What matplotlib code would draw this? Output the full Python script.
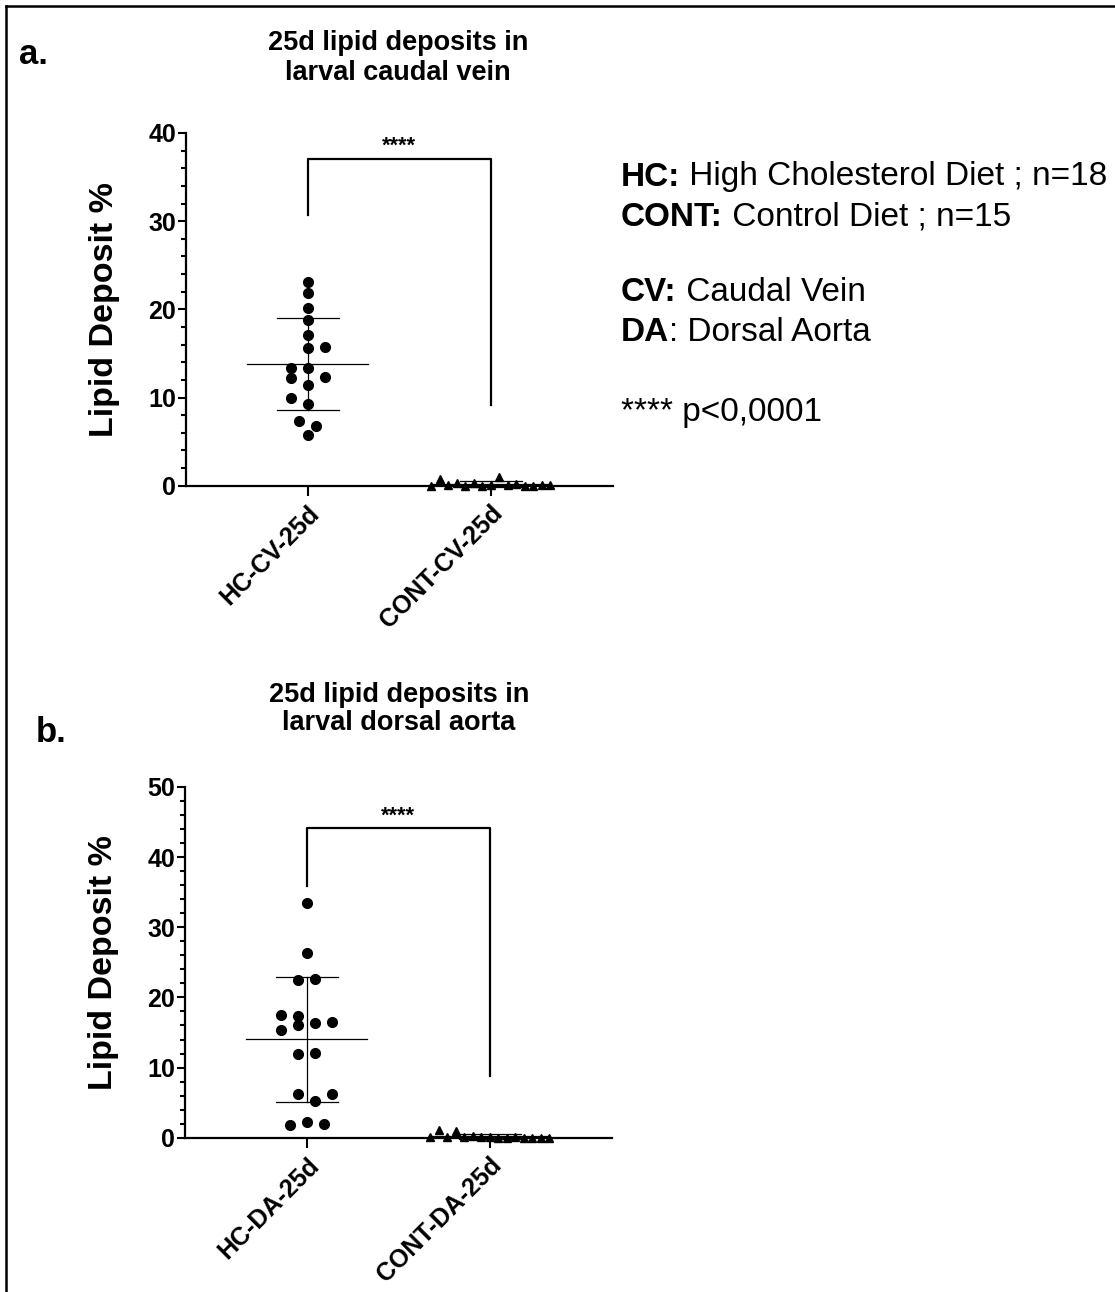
import matplotlib
matplotlib.use("Agg")
import matplotlib.pyplot as plt
from matplotlib.lines import Line2D
import numpy as np

plt.rcParams['font.family'] = ['Liberation Sans', 'DejaVu Sans']

# 25d caudal vein (%)
cv_labels = ['HC-CV-25d', 'CONT-CV-25d']
cv_hc = [23.1, 21.9, 20.2, 18.75, 17.1, 15.6, 15.7, 13.3, 13.3, 12.2, 12.35,
         11.4, 10.0, 9.3, 7.3, 6.8, 5.75]
cv_cont = [0.0, 0.8, 0.05, 0.3, 0.0, 0.3, 0.0, 0.1, 0.95, 0.1, 0.2, 0.0,
           0.0, 0.05, 0.05]

# 25d dorsal aorta (%)
da_labels = ['HC-DA-25d', 'CONT-DA-25d']
da_hc = [33.5, 26.4, 22.5, 22.6, 17.5, 17.4, 16.05, 16.3, 16.5, 15.4, 12.0,
         12.1, 6.3, 6.2, 5.3, 1.8, 2.2, 2.0]
da_cont = [0.05, 1.1, 0.05, 1.0, 0.1, 0.3, 0.05, 0.05, 0.0, 0.0, 0.05, 0.0,
           0.0, 0.0, 0.0]

# horizontal scatter slots for each point (in marker widths)
cv_hc_slot = [0, 0, 0, 0, 0, 0, 2, 0, -2, -2, 2, 0, -2, 0, -1, 1, 0]
da_hc_slot = [0, 0, -1, 1, -3, -1, -1, 1, 3, -3, -1, 1, -1, 3, 1, -2, 0, 2]
cont_slot = list(range(-7, 8))

STEP = 0.0465


def scatter_group(ax, x0, vals, slots, marker, ms):
    vals = np.array(vals)
    xs = x0 + STEP * np.array(slots)
    ax.plot(xs, vals, linestyle='none', marker=marker, ms=ms, color='black',
            clip_on=False, zorder=3)
    m = vals.mean()
    sd = vals.std(ddof=1)
    ax.plot([x0 - 0.33, x0 + 0.33], [m, m], color='black', lw=0.9, zorder=4, clip_on=False)
    ax.plot([x0, x0], [m - sd, m + sd], color='black', lw=0.9, zorder=4, clip_on=False)
    for y in (m - sd, m + sd):
        ax.plot([x0 - 0.17, x0 + 0.17], [y, y], color='black', lw=0.9, zorder=4, clip_on=False)


def panel(ax, labels, hc, hc_slot, cont, ymax, br_top, br_left, br_right):
    scatter_group(ax, 0, hc, hc_slot, 'o', 7.0)
    scatter_group(ax, 1, cont, cont_slot, '^', 5.4)

    ax.set_xlim(-0.665, 1.668)
    ax.set_ylim(0, ymax)
    ax.set_yticks(np.arange(0, ymax + 1, 10))
    ax.set_yticks(np.arange(0, ymax + 1, 2), minor=True)
    ax.set_xticks([0, 1])
    ax.set_xticklabels(labels, rotation=45, ha='right', rotation_mode='anchor',
                       fontsize=18, fontweight='bold')
    for t in ax.get_yticklabels():
        t.set_fontweight('bold')
        t.set_fontsize(18)
    ax.tick_params(axis='y', which='major', length=5.5, width=1.5, pad=1.5)
    ax.tick_params(axis='y', which='minor', length=3.5, width=1.5)
    ax.tick_params(axis='x', which='major', length=7, width=1.5, pad=4)
    for s in ('top', 'right'):
        ax.spines[s].set_visible(False)
    for s in ('left', 'bottom'):
        ax.spines[s].set_linewidth(1.6)

    ax.set_ylabel('Lipid Deposit %', fontsize=24.5, fontweight='bold')
    ax.yaxis.set_label_coords(-0.155, 0.5)

    # significance bracket
    ax.plot([0, 0, 1, 1], [br_left, br_top, br_top, br_right], color='black',
            lw=1.6, clip_on=False)
    ax.text(0.5, br_top + ymax * 0.004, '****', ha='center', va='bottom',
            fontsize=15.5, fontweight='bold')


W, H = 1115, 1292
fig = plt.figure(figsize=(W / 100, H / 100), dpi=100)

ax_a = fig.add_axes([186 / W, 1 - 485.7 / H, 427 / W, 352.7 / H])
panel(ax_a, cv_labels, cv_hc, cv_hc_slot, cv_cont, 40, 37.1, 30.7, 9.1)

ax_b = fig.add_axes([185 / W, 1 - 1137.7 / H, 427 / W, 350.7 / H])
panel(ax_b, da_labels, da_hc, da_hc_slot, da_cont, 50, 44.1, 35.9, 8.8)

# titles and panel letters
fig.text(398 / W, 1 - 58 / H, '25d lipid deposits in\nlarval caudal vein',
         ha='center', va='center', fontsize=19.5, fontweight='bold', linespacing=1.15)
fig.text(399 / W, 1 - 709 / H, '25d lipid deposits in\nlarval dorsal aorta',
         ha='center', va='center', fontsize=19.5, fontweight='bold', linespacing=1.15)
fig.text(33 / W, 1 - 55 / H, 'a.', ha='center', va='center', fontsize=25, fontweight='bold')
fig.text(51 / W, 1 - 732 / H, 'b.', ha='center', va='center', fontsize=25, fontweight='bold')

# key text on the right
key = [
    ('HC:', ' High Cholesterol Diet ; n=18', 177),
    ('CONT:', ' Control Diet ; n=15', 217),
    ('CV:', ' Caudal Vein', 293),
    ('DA', ': Dorsal Aorta', 332),
    ('', '**** p<0,0001', 412),
]
renderer = fig.canvas.get_renderer()
for bold, rest, y in key:
    x = 621 / W
    if bold:
        tb = fig.text(x, 1 - y / H, bold, ha='left', va='center', fontsize=24,
                      fontweight='bold')
        bb = tb.get_window_extent(renderer)
        x = bb.x1 / W
    fig.text(x, 1 - y / H, rest, ha='left', va='center', fontsize=24)

# frame lines along top and left edges
fig.add_artist(Line2D([6 / W, 6 / W], [0, 1 - 6 / H], color='black', lw=1.8))
fig.add_artist(Line2D([6 / W, 1], [1 - 6 / H, 1 - 6 / H], color='black', lw=1.8))

fig.savefig('out.png', dpi=100)
